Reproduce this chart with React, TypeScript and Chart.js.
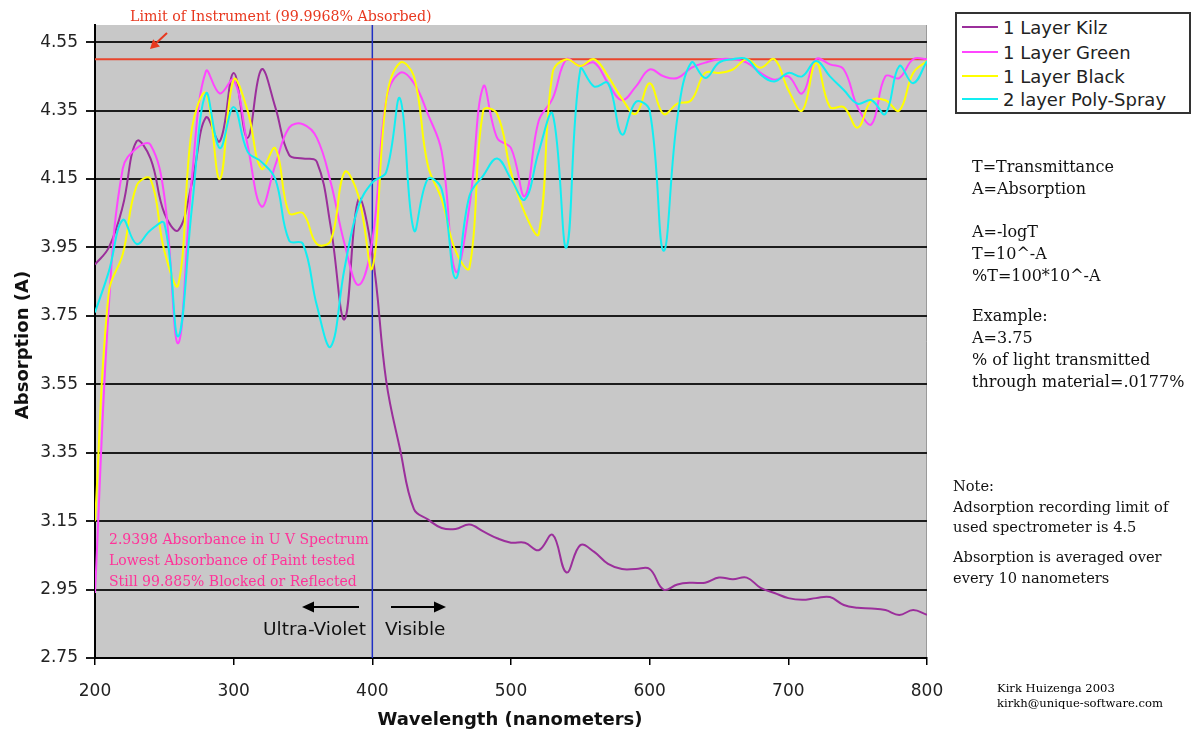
import React, { useEffect, useRef } from 'react';
import { Chart, registerables } from 'chart.js';

Chart.register(...registerables);

// ---- data (absorption read every 10 nm) ----
const wavelengths = [
  200, 210, 220, 230, 240, 250, 260, 270, 280, 290,
  300, 310, 320, 330, 340, 350, 360, 370, 380, 390,
  400, 410, 420, 430, 440, 450, 460, 470, 480, 490,
  500, 510, 520, 530, 540, 550, 560, 570, 580, 590,
  600, 610, 620, 630, 640, 650, 660, 670, 680, 690,
  700, 710, 720, 730, 740, 750, 760, 770, 780, 790,
  800,
];

const kilz = [
  3.90, 3.95, 4.07, 4.26, 4.21, 4.05, 4.00, 4.14, 4.33, 4.26,
  4.46, 4.27, 4.47, 4.36, 4.22, 4.21, 4.20, 4.01, 3.74, 4.09,
  3.93, 3.56, 3.36, 3.185, 3.155, 3.13, 3.127, 3.14, 3.12, 3.10,
  3.087, 3.087, 3.065, 3.11, 3.00, 3.08, 3.06, 3.025, 3.01, 3.01,
  3.01, 2.95, 2.965, 2.97, 2.97, 2.985, 2.98, 2.985, 2.955, 2.94,
  2.925, 2.92, 2.925, 2.928, 2.905, 2.897, 2.895, 2.89, 2.876, 2.89,
  2.876,
];

const green = [
  2.94, 3.78, 4.18, 4.24, 4.25, 4.10, 3.67, 4.16, 4.465, 4.40,
  4.44, 4.25, 4.07, 4.19, 4.30, 4.31, 4.27, 4.14, 3.96, 3.84,
  3.97, 4.38, 4.46, 4.43, 4.34, 4.23, 3.88, 4.07, 4.42, 4.27,
  4.24, 4.10, 4.32, 4.385, 4.50, 4.48, 4.49, 4.43, 4.38, 4.42,
  4.47, 4.45, 4.445, 4.475, 4.49, 4.50, 4.50, 4.49, 4.46, 4.44,
  4.45, 4.40, 4.50, 4.485, 4.47, 4.36, 4.31, 4.45, 4.445, 4.50,
  4.50,
];

const black = [
  3.15, 3.82, 3.93, 4.13, 4.15, 3.94, 3.84, 4.30, 4.40, 4.15,
  4.44, 4.35, 4.18, 4.24, 4.05, 4.05, 3.96, 3.97, 4.17, 4.10,
  3.89, 4.38, 4.49, 4.45, 4.19, 4.09, 3.94, 3.89, 4.35, 4.34,
  4.17, 4.05, 3.99, 4.46, 4.50, 4.48, 4.50, 4.45, 4.385, 4.34,
  4.43, 4.34, 4.37, 4.38, 4.46, 4.46, 4.47, 4.50, 4.475, 4.50,
  4.41, 4.35, 4.49, 4.36, 4.36, 4.30, 4.38, 4.38, 4.35, 4.46,
  4.495,
];

const polySpray = [
  3.76, 3.88, 4.03, 3.96, 4.00, 4.02, 3.69, 4.07, 4.40, 4.24,
  4.36, 4.23, 4.20, 4.15, 3.97, 3.96, 3.78, 3.66, 3.89, 4.07,
  4.14, 4.17, 4.385, 4.00, 4.15, 4.12, 3.86, 4.10, 4.16, 4.21,
  4.15, 4.09, 4.23, 4.34, 3.95, 4.47, 4.42, 4.43, 4.28, 4.375,
  4.35, 3.94, 4.33, 4.49, 4.445, 4.49, 4.50, 4.50, 4.455, 4.435,
  4.46, 4.45, 4.495, 4.45, 4.41, 4.37, 4.38, 4.34, 4.48, 4.43,
  4.495,
];

const seriesNames = ['1 Layer Kilz', '1 Layer Green', '1 Layer Black', '2 layer Poly-Spray'];
const seriesValues = [kilz, green, black, polySpray];
const seriesColors = ['#9b2f9b', '#ff46ff', '#ffff00', '#12eef2'];

const xTickValues = [200, 300, 400, 500, 600, 700, 800];
const yTickValues = [2.75, 2.95, 3.15, 3.35, 3.55, 3.75, 3.95, 4.15, 4.35, 4.55];
const xMin = 200;
const xMax = 800;
const yMin = 2.75;
const yMax = 4.6;
const instrumentLimit = 4.5;
const uvVisibleBoundary = 400;

const notesMain = [
  ['T=Transmittance', 'A=Absorption'],
  ['A=-logT', 'T=10^-A', '%T=100*10^-A'],
  ['Example:', 'A=3.75', '% of light transmitted', 'through material=.0177%'],
];
const notesSmall = [
  ['Note:', 'Adsorption recording limit of', 'used spectrometer is 4.5'],
  ['Absorption is averaged over', 'every 10 nanometers'],
];
const uvNote = [
  '2.9398 Absorbance in U V Spectrum',
  'Lowest Absorbance of Paint tested',
  'Still 99.885% Blocked or Reflected',
];

const SANS = '"DejaVu Sans", Verdana, sans-serif';
const SERIF = '"DejaVu Serif", serif';

function drawArrow(ctx: CanvasRenderingContext2D, x1: number, y1: number, x2: number, y2: number, color: string, lw: number, hl: number, hw: number) {
  const dx = x2 - x1;
  const dy = y2 - y1;
  const len = Math.sqrt(dx * dx + dy * dy);
  const ux = dx / len;
  const uy = dy / len;
  const bx = x2 - ux * hl;
  const by = y2 - uy * hl;
  ctx.save();
  ctx.strokeStyle = color;
  ctx.fillStyle = color;
  ctx.lineWidth = lw;
  ctx.beginPath();
  ctx.moveTo(x1, y1);
  ctx.lineTo(bx, by);
  ctx.stroke();
  ctx.beginPath();
  ctx.moveTo(x2, y2);
  ctx.lineTo(bx - uy * hw, by + ux * hw);
  ctx.lineTo(bx + uy * hw, by - ux * hw);
  ctx.closePath();
  ctx.fill();
  ctx.restore();
}

const plotBackground = {
  id: 'plotBackground',
  beforeDraw(chart: any) {
    const { ctx, chartArea } = chart;
    ctx.save();
    ctx.fillStyle = '#c8c8c8';
    ctx.fillRect(chartArea.left, chartArea.top, chartArea.right - chartArea.left, chartArea.bottom - chartArea.top);
    ctx.strokeStyle = '#9a9a9a';
    ctx.lineWidth = 1;
    ctx.beginPath();
    ctx.moveTo(chartArea.right - 0.5, chartArea.top);
    ctx.lineTo(chartArea.right - 0.5, chartArea.bottom);
    ctx.stroke();
    ctx.restore();
  },
  afterDraw(chart: any) {
    const ctx = chart.ctx;
    drawArrow(ctx, 167, 33, 150, 49, '#e8381f', 2, 9, 5);
    drawArrow(ctx, 359, 607, 302, 607, '#000', 2, 12, 5.5);
    drawArrow(ctx, 391, 607, 446, 607, '#000', 2, 12, 5.5);
  },
};

function Txt(props: { x: number; cy: number; size: number; family: string; color?: string; weight?: string | number; align?: 'left' | 'right' | 'center'; children: React.ReactNode; }) {
  const lh = Math.round(props.size * 1.25);
  const style: React.CSSProperties = {
    position: 'absolute',
    top: props.cy - lh / 2,
    lineHeight: lh + 'px',
    fontSize: props.size,
    fontFamily: props.family,
    color: props.color || '#111',
    fontWeight: props.weight as any,
    whiteSpace: 'nowrap',
  };
  if (props.align === 'right') {
    style.right = 1194 - props.x;
    style.textAlign = 'right';
  } else if (props.align === 'center') {
    style.left = props.x - 300;
    style.width = 600;
    style.textAlign = 'center';
  } else {
    style.left = props.x;
  }
  return <div style={style}>{props.children}</div>;
}

export default function App() {
  const canvasRef = useRef<HTMLCanvasElement | null>(null);

  useEffect(() => {
    document.body.style.margin = '0';
    const canvas = canvasRef.current;
    if (!canvas) return;

    const toPoints = (vals: number[]) => vals.map((v, i) => ({ x: wavelengths[i], y: v }));
    const orders = [4, 3, 2, 1];

    const datasets: any[] = seriesValues.map((vals, i) => ({
      label: seriesNames[i],
      data: toPoints(vals),
      borderColor: seriesColors[i],
      backgroundColor: seriesColors[i],
      borderWidth: 2,
      tension: 0.4,
      pointRadius: 0,
      fill: false,
      order: orders[i],
    }));

    datasets.push({
      label: 'Limit of Instrument',
      data: [{ x: xMin, y: instrumentLimit }, { x: xMax, y: instrumentLimit }],
      borderColor: '#e8452c',
      borderWidth: 2,
      pointRadius: 0,
      tension: 0,
      order: 10,
    });
    datasets.push({
      label: 'UV / Visible',
      data: [{ x: uvVisibleBoundary, y: yMin }, { x: uvVisibleBoundary, y: yMax }],
      borderColor: '#1f2fc4',
      borderWidth: 1.5,
      pointRadius: 0,
      tension: 0,
      order: 11,
    });

    const chart = new Chart(canvas, {
      type: 'line',
      data: { datasets },
      plugins: [plotBackground],
      options: {
        animation: false,
        responsive: false,
        devicePixelRatio: 1,
        layout: { padding: { left: 0, top: 25, right: 267, bottom: 0 } },
        plugins: {
          legend: { display: false },
          tooltip: { enabled: false },
          title: { display: false },
        },
        scales: {
          x: {
            type: 'linear',
            min: xMin,
            max: xMax,
            afterFit: (s: any) => { s.height = 76; },
            afterBuildTicks: (s: any) => { s.ticks = xTickValues.map((v) => ({ value: v })); },
            grid: { drawOnChartArea: false, drawTicks: true, tickLength: 7, color: '#000', lineWidth: 1.5 },
            border: { color: '#000', width: 2 },
            ticks: {
              color: '#222',
              font: { family: SANS, size: 17 },
              padding: 16,
              maxRotation: 0,
              autoSkip: false,
            },
          },
          y: {
            type: 'linear',
            min: yMin,
            max: yMax,
            afterFit: (s: any) => { s.width = 95; },
            afterBuildTicks: (s: any) => { s.ticks = yTickValues.map((v) => ({ value: v })); },
            grid: { color: '#1c1c1c', lineWidth: 2, tickLength: 9, drawTicks: true },
            border: { color: '#000', width: 2 },
            ticks: {
              color: '#222',
              font: { family: SANS, size: 17 },
              padding: 8,
              autoSkip: false,
              callback: (v: any) => Number(v).toFixed(2),
            },
          },
        },
      } as any,
    });

    return () => { chart.destroy(); };
  }, []);

  const legendRows = [27, 52, 76, 99];
  const mainStarts = [167, 232, 316];
  const smallStarts = [486, 557];

  return (
    <div style={{ position: 'absolute', left: 0, top: 0, width: 1194, height: 734, background: '#fff', overflow: 'hidden' }}>
      <canvas ref={canvasRef} width={1194} height={734} style={{ position: 'absolute', left: 0, top: 0, width: 1194, height: 734 }} />

      {/* axis titles */}
      <div style={{
        position: 'absolute', left: 22 - 100, top: 345 - 12, width: 200, height: 24, lineHeight: '24px',
        textAlign: 'center', transform: 'rotate(-90deg)', fontFamily: SANS, fontWeight: 'bold', fontSize: 18, color: '#111',
      }}>Absorption (A)</div>
      <Txt x={510} cy={718} size={18} family={SANS} weight="bold" align="center">Wavelength (nanometers)</Txt>

      {/* instrument limit label */}
      <Txt x={130} cy={16} size={14.2} family={SERIF} color="#e8381f">Limit of Instrument (99.9968% Absorbed)</Txt>

      {/* UV note */}
      {uvNote.map((t, i) => (
        <Txt key={t} x={109} cy={539 + i * 21} size={14} family={SERIF} color="#ff3399">{t}</Txt>
      ))}

      {/* UV / visible labels */}
      <Txt x={366} cy={628} size={18.5} family={SANS} color="#111" align="right">Ultra-Violet</Txt>
      <Txt x={385} cy={628} size={18.5} family={SANS} color="#111">Visible</Txt>

      {/* legend */}
      <div style={{
        position: 'absolute', left: 955, top: 12, width: 236, height: 102, boxSizing: 'border-box',
        border: '2px solid #333', background: '#fff',
      }} />
      {seriesNames.map((n, i) => (
        <React.Fragment key={n}>
          <div style={{ position: 'absolute', left: 962, top: legendRows[i] - 1, width: 36, height: 2, background: seriesColors[i] }} />
          <Txt x={1003} cy={legendRows[i]} size={18} family={SANS} color="#222">{n}</Txt>
        </React.Fragment>
      ))}

      {/* notes */}
      {notesMain.map((block, b) => block.map((t, i) => (
        <Txt key={t} x={972} cy={mainStarts[b] + i * 22} size={16} family={SERIF} color="#111">{t}</Txt>
      )))}
      {notesSmall.map((block, b) => block.map((t, i) => (
        <Txt key={t} x={953} cy={smallStarts[b] + i * 20.5} size={14.6} family={SERIF} color="#111">{t}</Txt>
      )))}

      {/* credits */}
      <Txt x={997} cy={688} size={11.6} family={SERIF} color="#000">Kirk Huizenga 2003</Txt>
      <Txt x={997} cy={703} size={11.6} family={SERIF} color="#000">kirkh@unique-software.com</Txt>
    </div>
  );
}
